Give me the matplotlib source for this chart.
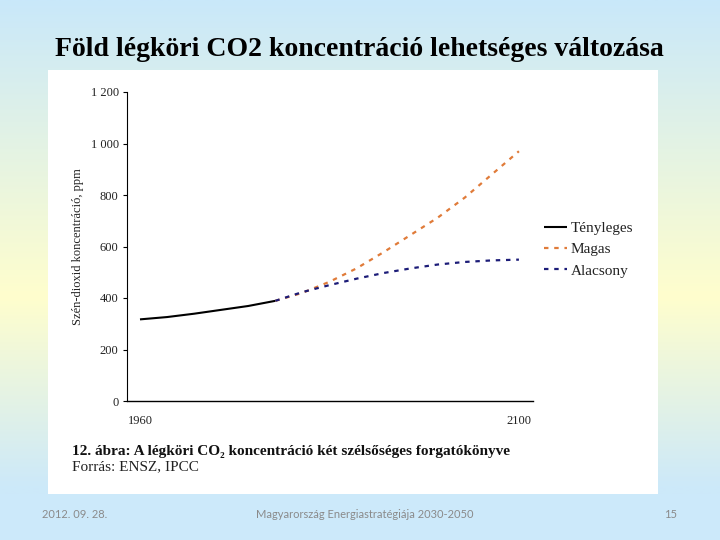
import numpy as np
import matplotlib
matplotlib.use("Agg")
import matplotlib.pyplot as plt
from matplotlib.patches import Rectangle
from matplotlib.colors import LinearSegmentedColormap
from matplotlib.ticker import FuncFormatter

# ---- data ----
years_actual = [1960, 1970, 1980, 1990, 2000, 2010]
actual = [317, 326, 339, 354, 369, 389]
years_scen = [2010, 2020, 2030, 2040, 2050, 2060, 2070, 2080, 2090, 2100]
magas = [389, 420, 463, 515, 578, 645, 712, 790, 880, 970]
alacsony = [389, 423, 450, 475, 497, 515, 530, 540, 546, 549]
yticks = [0, 200, 400, 600, 800, 1000, 1200]
xtick_years = [1960, 2100]

title = "Föld légköri CO2 koncentráció lehetséges változása"
ylabel = "Szén-dioxid koncentráció, ppm"
caption = "12. ábra: A légköri CO₂ koncentráció két szélsőséges forgatókönyve"
source = "Forrás: ENSZ, IPCC"
footer_left = "2012. 09. 28."
footer_mid = "Magyarország Energiastratégiája 2030-2050"
footer_right = "15"

serif = ["Liberation Serif", "DejaVu Serif"]

W, H = 720, 540
fig = plt.figure(figsize=(7.2, 5.4), dpi=100)

# background gradient
bg = fig.add_axes([0, 0, 1, 1], zorder=-10)
cmap = LinearSegmentedColormap.from_list(
    "bg", [(0.0, "#c9e8fa"), (0.55, "#fffecd"), (0.90, "#cde9f9"), (1.0, "#cce9fa")])
grad = np.linspace(0, 1, 256).reshape(-1, 1)
bg.imshow(grad, aspect="auto", cmap=cmap, extent=[0, 1, 0, 1], origin="upper")
bg.set_xlim(0, 1); bg.set_ylim(0, 1)
bg.axis("off")

# white panel
fig.patches.append(Rectangle((48 / W, 1 - 494 / H), (658 - 48) / W, (494 - 70) / H,
                             transform=fig.transFigure, facecolor="white",
                             edgecolor="none", zorder=-5))
# bottom strip
fig.patches.append(Rectangle((0, 0), 1, 1 - 494 / H, transform=fig.transFigure,
                             facecolor="#cce9fa", edgecolor="none", zorder=-6))

ax = fig.add_axes([127 / W, 1 - 401 / H, (533 - 127) / W, (401 - 92) / H])
ax.set_facecolor("none")
ax.plot(years_actual, actual, color="black", lw=1.5, label="Tényleges", solid_capstyle="butt")
ax.plot(years_scen, magas, color="#e07b39", lw=1.6, ls=(0, (2, 2.6)), label="Magas")
ax.plot(years_scen, alacsony, color="#1c1c78", lw=1.6, ls=(0, (2, 2.6)), label="Alacsony")

ax.set_xlim(1955.2, 2105.2)
ax.set_ylim(0, 1200)
ax.set_yticks(yticks)
ax.yaxis.set_major_formatter(FuncFormatter(lambda v, p: f"{int(v):,}".replace(",", " ")))
ax.set_xticks(xtick_years)
ax.tick_params(axis="x", length=0, pad=10, labelsize=9, labelcolor="#222222")
ax.tick_params(axis="y", length=3, width=0.8, pad=3, labelsize=9, labelcolor="#222222")
for lab in ax.get_xticklabels() + ax.get_yticklabels():
    lab.set_family(serif)
for s in ["top", "right"]:
    ax.spines[s].set_visible(False)
ax.spines["left"].set_linewidth(0.8)
ax.spines["bottom"].set_linewidth(1.0)
ax.set_ylabel(ylabel, family=serif, fontsize=9, color="#222222", labelpad=5)

leg = ax.legend(loc="center left", bbox_to_anchor=(1.0, 0.49), frameon=False,
                prop={"family": serif, "size": 11}, handlelength=1.55,
                handletextpad=0.2, labelspacing=0.5, borderaxespad=0.3)
for t in leg.get_texts():
    t.set_color("#222222")

fig.text(0.499, 1 - 50 / H, title, ha="center", va="center", family=serif,
         fontsize=20, fontweight="bold", color="black")
fig.text(72 / W, 1 - 451 / H, caption, ha="left", va="center", family=serif,
         fontsize=11, fontweight="bold", color="#111111")
fig.text(72 / W, 1 - 467 / H, source, ha="left", va="center", family=serif,
         fontsize=11, color="#222222")

foot = ["Lato", "DejaVu Sans"]
fig.text(42 / W, 1 - 514 / H, footer_left, ha="left", va="center", family=foot,
         fontsize=8, color="#8a8a8a")
fig.text(365 / W, 1 - 514 / H, footer_mid, ha="center", va="center", family=foot,
         fontsize=8, color="#8a8a8a")
fig.text(677 / W, 1 - 514 / H, footer_right, ha="right", va="center", family=foot,
         fontsize=8, color="#8a8a8a")

fig.savefig("out.png", dpi=100)
